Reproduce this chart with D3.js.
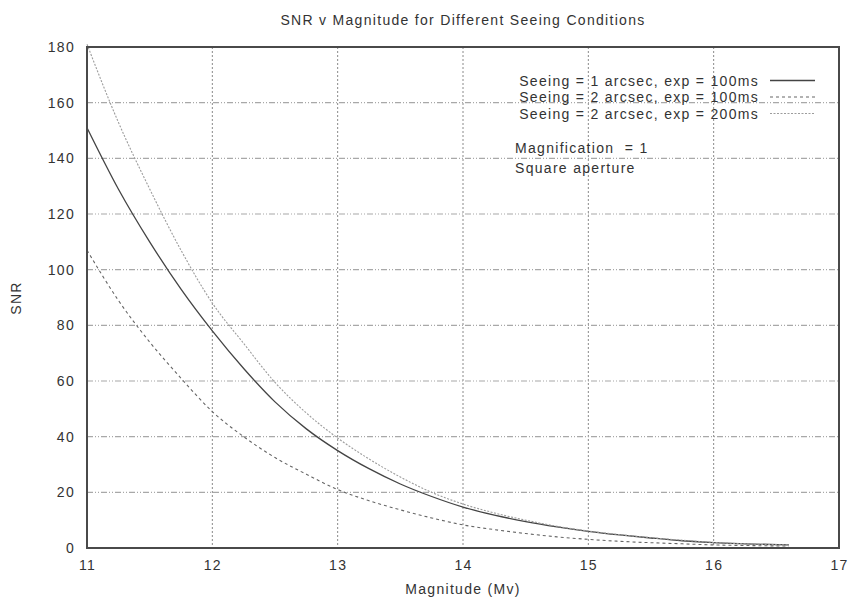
<!DOCTYPE html>
<html>
<head>
<meta charset="utf-8">
<script src="https://cdn.jsdelivr.net/npm/d3@7"></script>
<style>
  html, body { margin: 0; padding: 0; background: #fff; }
  svg text { font-family: "Liberation Sans", Arial, Helvetica, sans-serif; fill: #333; letter-spacing: 1.3px; }
</style>
</head>
<body>
<svg id="chart" width="850" height="599"></svg>
<script>
// ---- data ----
const magnitudes = [11.0, 11.25, 11.5, 11.75, 12.0, 12.25, 12.5, 12.75, 13.0, 13.25, 13.5, 13.75, 14.0,
                    14.25, 14.5, 14.75, 15.0, 15.25, 15.5, 15.75, 16.0, 16.25, 16.6];
const snrSeeing1Exp100 = [151, 129, 110, 93, 78, 64.5, 52.5, 42.8, 35, 28.5, 23, 18.5, 14.7,
                          11.8, 9.5, 7.6, 6.0, 4.7, 3.6, 2.6, 1.9, 1.5, 1.1];
const snrSeeing2Exp100 = [107, 89, 74, 61, 49, 40, 32.5, 26.5, 21, 17, 13.7, 10.8, 8.3,
                          6.6, 5.2, 4.0, 3.1, 2.4, 1.9, 1.5, 1.1, 0.9, 0.7];
const snrSeeing2Exp200 = [181, 153, 129, 107, 88, 73.5, 59.5, 48.5, 39.5, 32, 25.5, 20, 15.8,
                          12.6, 10, 7.8, 6.1, 4.8, 3.7, 2.8, 2.0, 1.5, 1.1];
const seriesNames = ["Seeing = 1 arcsec, exp = 100ms",
                     "Seeing = 2 arcsec, exp = 100ms",
                     "Seeing = 2 arcsec, exp = 200ms"];
const xTicks = [11, 12, 13, 14, 15, 16, 17];
const yTicks = [0, 20, 40, 60, 80, 100, 120, 140, 160, 180];
const titleText = "SNR v Magnitude for Different Seeing Conditions";
const xLabel = "Magnitude (Mv)";
const yLabel = "SNR";
const notes = ["Magnification  = 1", "Square aperture"];

// ---- layout ----
const svg = d3.select("#chart");
const L = 87, R = 839, T = 47, B = 548;
const x = d3.scaleLinear().domain([11, 17]).range([L, R]);
const y = d3.scaleLinear().domain([0, 180]).range([B, T]);
const fs = 14;

const styles = [
  { stroke: "#444", width: 1.3, dash: null },
  { stroke: "#666", width: 1.1, dash: "3,3" },
  { stroke: "#9c9c9c", width: 1.1, dash: "2,1.5" }
];
const seriesData = [snrSeeing1Exp100, snrSeeing2Exp100, snrSeeing2Exp200];

// grid
const grid = svg.append("g");
grid.selectAll("line.vg").data(xTicks.filter(d => d > 11 && d < 17)).join("line")
  .attr("x1", d => x(d)).attr("x2", d => x(d)).attr("y1", T).attr("y2", B)
  .attr("stroke", "#8a8a8a").attr("stroke-width", 1).attr("stroke-dasharray", "2,2");
grid.selectAll("line.hg").data(yTicks.filter(d => d > 0 && d < 180)).join("line")
  .attr("x1", L).attr("x2", R).attr("y1", d => y(d)).attr("y2", d => y(d))
  .attr("stroke", "#a8a8a8").attr("stroke-width", 1.2).attr("stroke-dasharray", "6,2,1,2,1,2");

// axes (labels only, gnuplot style)
const xAxis = d3.axisBottom(x).tickValues(xTicks).tickSize(0).tickPadding(12).tickFormat(d3.format("d"));
const yAxis = d3.axisLeft(y).tickValues(yTicks).tickSize(0).tickPadding(12).tickFormat(d3.format("d"));
const gx = svg.append("g").attr("transform", `translate(0,${B})`).call(xAxis);
const gy = svg.append("g").attr("transform", `translate(${L},0)`).call(yAxis);
[gx, gy].forEach(g => {
  g.select(".domain").remove();
  g.selectAll("text").attr("font-size", fs).attr("fill", "#333")
    .attr("font-family", "Liberation Sans, Arial, sans-serif");
});

// curves
const line = d3.line().x((d, i) => x(magnitudes[i])).y(d => y(d)).curve(d3.curveMonotoneX);
seriesData.forEach((s, k) => {
  svg.append("path").datum(s).attr("d", line)
    .attr("fill", "none").attr("stroke", styles[k].stroke)
    .attr("stroke-width", styles[k].width)
    .attr("stroke-dasharray", styles[k].dash);
});

// frame
svg.append("rect").attr("x", L).attr("y", T).attr("width", R - L).attr("height", B - T)
  .attr("fill", "none").attr("stroke", "#4a4a4a").attr("stroke-width", 2);

// legend
const legendRows = [85.5, 102, 118.5];
seriesNames.forEach((name, k) => {
  svg.append("text").attr("x", 759).attr("y", legendRows[k]).attr("text-anchor", "end")
    .attr("font-size", fs).text(name);
  svg.append("line").attr("x1", 770).attr("x2", 815)
    .attr("y1", legendRows[k] - 5).attr("y2", legendRows[k] - 5)
    .attr("stroke", styles[k].stroke).attr("stroke-width", styles[k].width)
    .attr("stroke-dasharray", styles[k].dash);
});
svg.append("text").attr("x", 515).attr("y", 153).attr("font-size", fs).attr("xml:space", "preserve")
  .style("white-space", "pre").text(notes[0]);
svg.append("text").attr("x", 515).attr("y", 173).attr("font-size", fs).text(notes[1]);

// titles
svg.append("text").attr("x", 463).attr("y", 25).attr("text-anchor", "middle")
  .attr("font-size", fs).text(titleText);
svg.append("text").attr("x", 463).attr("y", 594).attr("text-anchor", "middle")
  .attr("font-size", fs).text(xLabel);
svg.append("text").attr("transform", "translate(21,298) rotate(-90)").attr("text-anchor", "middle")
  .attr("font-size", fs).text(yLabel);
</script>
</body>
</html>
